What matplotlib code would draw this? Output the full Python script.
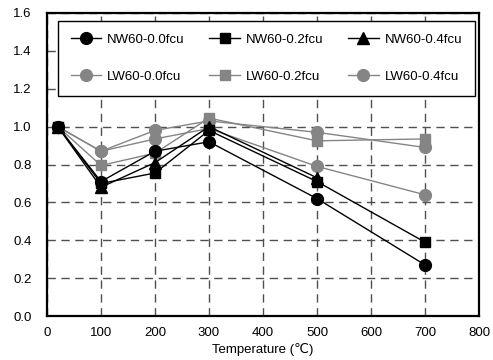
import matplotlib
matplotlib.use("Agg")
import matplotlib.pyplot as plt

plt.rcParams['font.family'] = ['Liberation Sans', 'DejaVu Sans']

temps = [20, 100, 200, 300, 500, 700]
temps_nw04 = [20, 100, 200, 300, 500]

nw_00 = [1.0, 0.71, 0.87, 0.92, 0.62, 0.27]
nw_02 = [1.0, 0.70, 0.755, 0.98, 0.71, 0.39]
nw_04 = [1.0, 0.68, 0.81, 1.00, 0.73]
lw_00 = [1.0, 0.87, 0.935, 0.99, 0.79, 0.64]
lw_02 = [1.0, 0.795, 0.86, 1.045, 0.925, 0.935]
lw_04 = [1.0, 0.87, 0.98, 1.03, 0.97, 0.89]

labels = ["NW60-0.0fcu", "NW60-0.2fcu", "NW60-0.4fcu",
          "LW60-0.0fcu", "LW60-0.2fcu", "LW60-0.4fcu"]

xticks = [0, 100, 200, 300, 400, 500, 600, 700, 800]
yticks = [0.0, 0.2, 0.4, 0.6, 0.8, 1.0, 1.2, 1.4, 1.6]

fig = plt.figure(figsize=(4.93, 3.6), dpi=100)
ax = fig.add_axes([0.0953, 0.1222, 0.8763, 0.8417])

gray = '#858585'
blk = 'black'
l4, = ax.plot(temps, lw_00, color=gray, lw=1.0, marker='o', ms=8.5, mec=gray, mfc=gray, label=labels[3])
l5, = ax.plot(temps, lw_02, color=gray, lw=1.0, marker='s', ms=7, mec=gray, mfc=gray, label=labels[4])
l6, = ax.plot(temps, lw_04, color=gray, lw=1.0, marker='o', ms=8.5, mec=gray, mfc=gray, label=labels[5])
l1, = ax.plot(temps, nw_00, color=blk, lw=1.0, marker='o', ms=8.5, label=labels[0])
l2, = ax.plot(temps, nw_02, color=blk, lw=1.0, marker='s', ms=7, label=labels[1])
l3, = ax.plot(temps_nw04, nw_04, color=blk, lw=1.0, marker='^', ms=8, label=labels[2])

ax.set_xlim(0, 800)
ax.set_ylim(0, 1.6)
ax.set_xticks(xticks)
ax.set_yticks(yticks)
ax.set_xticklabels([str(v) for v in xticks])
ax.set_yticklabels([f"{v:.1f}" for v in yticks])
ax.tick_params(axis='both', length=0, labelsize=9.5)
ax.tick_params(axis='y', pad=11)
ax.tick_params(axis='x', pad=8)

ax.grid(True, color='#505050', linestyle=(0, (6, 4)), linewidth=1.0)
ax.set_axisbelow(True)
for s in ax.spines.values():
    s.set_linewidth(1.6)
    s.set_color('black')

ax.set_xlabel("Temperature (℃)", fontsize=9.5, labelpad=3)

# legend fills column-wise: order so row 1 is NW, row 2 is LW
handles = [l1, l4, l2, l5, l3, l6]
leg_labels = [labels[0], labels[3], labels[1], labels[4], labels[2], labels[5]]
leg = ax.legend(handles, leg_labels, ncol=3, loc='upper left',
                bbox_to_anchor=(0.0255, 0.9736), borderaxespad=0,
                fontsize=9.5, frameon=True, fancybox=False, framealpha=1,
                edgecolor='black', handlelength=2.3, handletextpad=0.45,
                columnspacing=1.9, labelspacing=1.9, borderpad=0.95)
leg.get_frame().set_linewidth(1.0)
leg.set_zorder(5)

fig.savefig("out.png", dpi=100)
